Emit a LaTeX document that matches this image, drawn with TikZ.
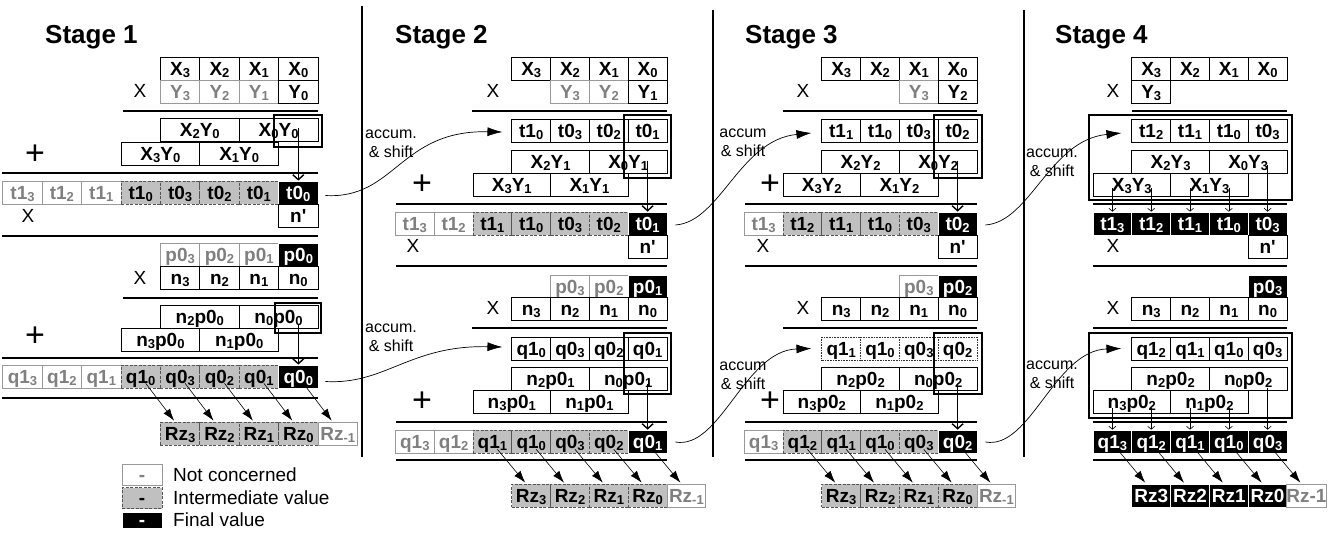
\documentclass[tikz,border=0pt]{standalone}
\usepackage{fontspec}
\setmainfont{Liberation Sans}
\usetikzlibrary{arrows.meta,calc}
\definecolor{ncdraw}{HTML}{999999}
\definecolor{nctext}{HTML}{808080}
\definecolor{imfill}{HTML}{C0C0C0}
\definecolor{imdraw}{HTML}{555555}
\newcommand{\cellfont}{\bfseries\fontsize{19}{19}\selectfont}
\newcommand{\lblfont}{\fontsize{19}{19}\selectfont}
\newcommand{\plusfont}{\fontsize{34}{34}\selectfont}
\newcommand{\accfont}{\fontsize{16}{18.5}\selectfont}
\newcommand{\titlefont}{\bfseries\fontsize{26}{26}\selectfont}
\newcommand{\legfont}{\fontsize{19}{19}\selectfont}
\newcommand{\subs}[1]{\raisebox{-2.4pt}{\fontsize{13}{13}\selectfont #1}}
\newcommand{\cb}[6]{%
  \pgfmathsetmacro\cbx{\stR-(#3+#4+1)/2*\stW}%
  \pgfmathsetmacro\cbw{(#3-#4+1)*\stW}%
  \node[cellbase,#1,minimum width=\cbw pt] (#2) at (\cbx,#5+11.5) {#6};}
\tikzset{
  cellbase/.style={draw=black, line width=0.7pt, fill=white, minimum height=23pt,
    inner sep=0pt, text height=13.5pt, text depth=0pt, font=\cellfont},
  nc/.style={draw=ncdraw, text=nctext},
  im/.style={fill=imfill, draw=imdraw, dash pattern=on 3pt off 1.5pt},
  fv/.style={fill=black, text=white, draw=white},
  dt/.style={draw=black!80, dash pattern=on 0.8pt off 0.8pt},
  rule/.style={line width=1.5pt},
  hl/.style={line width=1.6pt},
  varr/.style={line width=1.4pt, -{Straight Barb[length=5pt,width=11pt]}},
  sarr/.style={line width=0.6pt, -{Straight Barb[length=3pt,width=7pt]}},
  darr/.style={line width=0.6pt, -{Latex[length=12pt,width=8pt]}},
  carr/.style={line width=0.7pt, -{Latex[length=15pt,width=9pt]}},
  lbl/.style={font=\lblfont, inner sep=0pt},
  plus/.style={font=\plusfont, inner sep=0pt},
  accum/.style={font=\accfont, align=center, inner sep=0pt},
  title/.style={font=\titlefont, inner sep=0pt, anchor=base west},
  legtxt/.style={font=\legfont, inner sep=0pt, anchor=west},
}
\begin{document}
\begin{tikzpicture}[x=1pt,y=-1pt]
\useasboundingbox (0,0) rectangle (1333,533);
\fill[white] (0,0) rectangle (1333,533);

% ================= Stage 1 =================
\def\stR{318}\def\stW{39.4}
\node[title] (ttl1) at (45,43) {Stage 1};
\cb{}{s1x3}{3}{3}{57}{X\subs3}
\cb{}{s1x2}{2}{2}{57}{X\subs2}
\cb{}{s1x1}{1}{1}{57}{X\subs1}
\cb{}{s1x0}{0}{0}{57}{X\subs0}
\cb{nc}{s1y3}{3}{3}{80}{Y\subs3}
\cb{nc}{s1y2}{2}{2}{80}{Y\subs2}
\cb{nc}{s1y1}{1}{1}{80}{Y\subs1}
\cb{}{s1y0}{0}{0}{80}{Y\subs0}
\cb{}{s1pa}{3}{2}{118}{X\subs2Y\subs0}
\cb{}{s1pb}{1}{0}{118}{X\subs0Y\subs0}
\cb{}{s1pc}{4}{3}{142}{X\subs3Y\subs0}
\cb{}{s1pd}{2}{1}{142}{X\subs1Y\subs0}
\cb{nc}{s1t7}{7}{7}{181}{t1\subs3}
\cb{nc}{s1t6}{6}{6}{181}{t1\subs2}
\cb{nc}{s1t5}{5}{5}{181}{t1\subs1}
\cb{im}{s1t4}{4}{4}{181}{t1\subs0}
\cb{im}{s1t3}{3}{3}{181}{t0\subs3}
\cb{im}{s1t2}{2}{2}{181}{t0\subs2}
\cb{im}{s1t1}{1}{1}{181}{t0\subs1}
\cb{fv}{s1t0}{0}{0}{181}{t0\subs0}
\cb{}{s1np}{0}{0}{204}{n\textquotesingle}
\cb{nc}{s1p3}{3}{3}{243}{p0\subs3}
\cb{nc}{s1p2}{2}{2}{243}{p0\subs2}
\cb{nc}{s1p1}{1}{1}{243}{p0\subs1}
\cb{fv}{s1p0}{0}{0}{243}{p0\subs0}
\cb{}{s1n3}{3}{3}{266}{n\subs3}
\cb{}{s1n2}{2}{2}{266}{n\subs2}
\cb{}{s1n1}{1}{1}{266}{n\subs1}
\cb{}{s1n0}{0}{0}{266}{n\subs0}
\cb{}{s1pe}{3}{2}{305}{n\subs2p0\subs0}
\cb{}{s1pf}{1}{0}{305}{n\subs0p0\subs0}
\cb{}{s1pg}{4}{3}{328}{n\subs3p0\subs0}
\cb{}{s1ph}{2}{1}{328}{n\subs1p0\subs0}
\cb{nc}{s1q7}{7}{7}{365}{q1\subs3}
\cb{nc}{s1q6}{6}{6}{365}{q1\subs2}
\cb{nc}{s1q5}{5}{5}{365}{q1\subs1}
\cb{im}{s1q4}{4}{4}{365}{q1\subs0}
\cb{im}{s1q3}{3}{3}{365}{q0\subs3}
\cb{im}{s1q2}{2}{2}{365}{q0\subs2}
\cb{im}{s1q1}{1}{1}{365}{q0\subs1}
\cb{fv}{s1q0}{0}{0}{365}{q0\subs0}
\cb{im}{s1r3}{3}{3}{422}{Rz\subs3}
\cb{im}{s1r2}{2}{2}{422}{Rz\subs2}
\cb{im}{s1r1}{1}{1}{422}{Rz\subs1}
\cb{im}{s1r0}{0}{0}{422}{Rz\subs0}
\cb{nc}{s1rm}{-1}{-1}{422}{Rz\subs{-1}}
\draw[rule] (123,111) -- (318,111);
\draw[rule] (2,173) -- (318,173);
\draw[rule] (2,236) -- (318,236);
\draw[rule] (123,298) -- (318,298);
\draw[rule] (2,358) -- (318,358);
\draw[rule] (2,398) -- (318,398);
\draw[hl] (274,115) rectangle (322,147);
\draw[hl] (275,303) rectangle (321,333);
\node[lbl] (s1lx1) at (140,91) {X};
\node[lbl] (s1lx2) at (28,216) {X};
\node[lbl] (s1lx3) at (140,278) {X};
\node[plus] (s1pl1) at (35,155) {+};
\node[plus] (s1pl2) at (35,337) {+};
\draw[varr] ($(s1t0 |- s1pb.center)+(0,-2)$) -- (s1t0.north);
\draw[varr] ($(s1q0 |- s1pf.center)+(0,8)$) -- (s1q0.north);
\foreach \a/\b in {4/3,3/2,2/1,1/0,0/m}
  {\draw[darr] ($(s1q\a.south)+(5,-5)$) -- ($(s1r\b.north)+(-6,-1)$);}

% legend
\node[cellbase,nc,minimum width=40pt,minimum height=21pt] (lg1) at (142,475) {-};
\node[cellbase,im,minimum width=40pt,minimum height=21pt] (lg2) at (142,498) {-};
\node[cellbase,fv,minimum width=40pt,minimum height=16pt] (lg3) at (142,520) {-};
\node[legtxt] (lt1) at (173,475) {Not concerned};
\node[legtxt] (lt2) at (173,498) {Intermediate value};
\node[legtxt] (lt3) at (173,520) {Final value};

% ================= Stage 2 =================
\def\stR{667}\def\stW{38.8}
\node[title] (ttl2) at (395,43) {Stage 2};
\cb{}{s2x3}{3}{3}{57}{X\subs3}
\cb{}{s2x2}{2}{2}{57}{X\subs2}
\cb{}{s2x1}{1}{1}{57}{X\subs1}
\cb{}{s2x0}{0}{0}{57}{X\subs0}
\cb{nc}{s2y2}{2}{2}{80}{Y\subs3}
\cb{nc}{s2y1}{1}{1}{80}{Y\subs2}
\cb{}{s2y0}{0}{0}{80}{Y\subs1}
\cb{}{s2a3}{3}{3}{119}{t1\subs0}
\cb{}{s2a2}{2}{2}{119}{t0\subs3}
\cb{}{s2a1}{1}{1}{119}{t0\subs2}
\cb{}{s2a0}{0}{0}{119}{t0\subs1}
\cb{}{s2pa}{3}{2}{150}{X\subs2Y\subs1}
\cb{}{s2pb}{1}{0}{150}{X\subs0Y\subs1}
\cb{}{s2pc}{4}{3}{173}{X\subs3Y\subs1}
\cb{}{s2pd}{2}{1}{173}{X\subs1Y\subs1}
\cb{nc}{s2t6}{6}{6}{212}{t1\subs3}
\cb{nc}{s2t5}{5}{5}{212}{t1\subs2}
\cb{im}{s2t4}{4}{4}{212}{t1\subs1}
\cb{im}{s2t3}{3}{3}{212}{t1\subs0}
\cb{im}{s2t2}{2}{2}{212}{t0\subs3}
\cb{im}{s2t1}{1}{1}{212}{t0\subs2}
\cb{fv}{s2t0}{0}{0}{212}{t0\subs1}
\cb{}{s2np}{0}{0}{235}{n\textquotesingle}
\cb{nc}{s2p2}{2}{2}{275}{p0\subs3}
\cb{nc}{s2p1}{1}{1}{275}{p0\subs2}
\cb{fv}{s2p0}{0}{0}{275}{p0\subs1}
\cb{}{s2n3}{3}{3}{297}{n\subs3}
\cb{}{s2n2}{2}{2}{297}{n\subs2}
\cb{}{s2n1}{1}{1}{297}{n\subs1}
\cb{}{s2n0}{0}{0}{297}{n\subs0}
\cb{}{s2b3}{3}{3}{337}{q1\subs0}
\cb{}{s2b2}{2}{2}{337}{q0\subs3}
\cb{}{s2b1}{1}{1}{337}{q0\subs2}
\cb{}{s2b0}{0}{0}{337}{q0\subs1}
\cb{}{s2pe}{3}{2}{367}{n\subs2p0\subs1}
\cb{}{s2pf}{1}{0}{367}{n\subs0p0\subs1}
\cb{}{s2pg}{4}{3}{390}{n\subs3p0\subs1}
\cb{}{s2ph}{2}{1}{390}{n\subs1p0\subs1}
\cb{nc}{s2q6}{6}{6}{430}{q1\subs3}
\cb{nc}{s2q5}{5}{5}{430}{q1\subs2}
\cb{im}{s2q4}{4}{4}{430}{q1\subs1}
\cb{im}{s2q3}{3}{3}{430}{q1\subs0}
\cb{im}{s2q2}{2}{2}{430}{q0\subs3}
\cb{im}{s2q1}{1}{1}{430}{q0\subs2}
\cb{fv}{s2q0}{0}{0}{430}{q0\subs1}
\cb{im}{s2r3}{3}{3}{484}{Rz\subs3}
\cb{im}{s2r2}{2}{2}{484}{Rz\subs2}
\cb{im}{s2r1}{1}{1}{484}{Rz\subs1}
\cb{im}{s2r0}{0}{0}{484}{Rz\subs0}
\cb{nc}{s2rm}{-1}{-1}{484}{Rz\subs{-1}}
\draw[rule] (472,111) -- (667,111);
\draw[rule] (396,204) -- (667,204);
\draw[rule] (396,266) -- (667,266);
\draw[rule] (472,328) -- (667,328);
\draw[rule] (396,422) -- (667,422);
\draw[rule] (396,460) -- (667,460);
\draw[hl] (624,115) rectangle (671,178);
\draw[hl] (624,333) rectangle (671,394);
\node[lbl] (s2lx1) at (493,91) {X};
\node[lbl] (s2lx2) at (413,246) {X};
\node[lbl] (s2lx3) at (493,308) {X};
\node[plus] (s2pl1) at (422,185) {+};
\node[plus] (s2pl2) at (422,402) {+};
\node[accum] (s2ac1) at (391,144) {accum.\\\& shift};
\node[accum] (s2ac2) at (391,338) {accum.\\\& shift};
\draw[varr] ($(s2t0 |- s2pb.center)+(0,-1)$) -- (s2t0.north);
\draw[varr] ($(s2q0 |- s2pf.center)+(0,5)$) -- (s2q0.north);
\foreach \a/\b in {4/3,3/2,2/1,1/0,0/m}
  {\draw[darr] ($(s2q\a.south)+(5,-4)$) -- ($(s2r\b.north)+(-6,-1)$);}
\draw[carr] ($(s1t0.east)+(7,3)$) .. controls +(70,4) and +(-103,-2) .. ($(s2a3.west)+(-9,1.5)$);
\draw[carr] ($(s1q0.east)+(7,5)$) .. controls +(60,3.5) and +(-93,-2) .. ($(s2b3.west)+(-9,-1.5)$);

% ================= Stage 3 =================
\def\stR{977}\def\stW{38.8}
\node[title] (ttl3) at (745,43) {Stage 3};
\cb{}{s3x3}{3}{3}{57}{X\subs3}
\cb{}{s3x2}{2}{2}{57}{X\subs2}
\cb{}{s3x1}{1}{1}{57}{X\subs1}
\cb{}{s3x0}{0}{0}{57}{X\subs0}
\cb{nc}{s3y1}{1}{1}{80}{Y\subs3}
\cb{}{s3y0}{0}{0}{80}{Y\subs2}
\cb{}{s3a3}{3}{3}{119}{t1\subs1}
\cb{}{s3a2}{2}{2}{119}{t1\subs0}
\cb{}{s3a1}{1}{1}{119}{t0\subs3}
\cb{}{s3a0}{0}{0}{119}{t0\subs2}
\cb{}{s3pa}{3}{2}{150}{X\subs2Y\subs2}
\cb{}{s3pb}{1}{0}{150}{X\subs0Y\subs2}
\cb{}{s3pc}{4}{3}{173}{X\subs3Y\subs2}
\cb{}{s3pd}{2}{1}{173}{X\subs1Y\subs2}
\cb{nc}{s3t5}{5}{5}{212}{t1\subs3}
\cb{im}{s3t4}{4}{4}{212}{t1\subs2}
\cb{im}{s3t3}{3}{3}{212}{t1\subs1}
\cb{im}{s3t2}{2}{2}{212}{t1\subs0}
\cb{im}{s3t1}{1}{1}{212}{t0\subs3}
\cb{fv}{s3t0}{0}{0}{212}{t0\subs2}
\cb{}{s3np}{0}{0}{235}{n\textquotesingle}
\cb{nc}{s3p1}{1}{1}{275}{p0\subs3}
\cb{fv}{s3p0}{0}{0}{275}{p0\subs2}
\cb{}{s3n3}{3}{3}{297}{n\subs3}
\cb{}{s3n2}{2}{2}{297}{n\subs2}
\cb{}{s3n1}{1}{1}{297}{n\subs1}
\cb{}{s3n0}{0}{0}{297}{n\subs0}
\cb{dt}{s3b3}{3}{3}{337}{q1\subs1}
\cb{dt}{s3b2}{2}{2}{337}{q1\subs0}
\cb{dt}{s3b1}{1}{1}{337}{q0\subs3}
\cb{dt}{s3b0}{0}{0}{337}{q0\subs2}
\cb{}{s3pe}{3}{2}{367}{n\subs2p0\subs2}
\cb{}{s3pf}{1}{0}{367}{n\subs0p0\subs2}
\cb{}{s3pg}{4}{3}{390}{n\subs3p0\subs2}
\cb{}{s3ph}{2}{1}{390}{n\subs1p0\subs2}
\cb{nc}{s3q5}{5}{5}{430}{q1\subs3}
\cb{im}{s3q4}{4}{4}{430}{q1\subs2}
\cb{im}{s3q3}{3}{3}{430}{q1\subs1}
\cb{im}{s3q2}{2}{2}{430}{q1\subs0}
\cb{im}{s3q1}{1}{1}{430}{q0\subs3}
\cb{fv}{s3q0}{0}{0}{430}{q0\subs2}
\cb{im}{s3r3}{3}{3}{484}{Rz\subs3}
\cb{im}{s3r2}{2}{2}{484}{Rz\subs2}
\cb{im}{s3r1}{1}{1}{484}{Rz\subs1}
\cb{im}{s3r0}{0}{0}{484}{Rz\subs0}
\cb{nc}{s3rm}{-1}{-1}{484}{Rz\subs{-1}}
\draw[rule] (783,111) -- (977,111);
\draw[rule] (745,204) -- (977,204);
\draw[rule] (745,266) -- (977,266);
\draw[rule] (783,328) -- (977,328);
\draw[rule] (745,422) -- (977,422);
\draw[rule] (745,460) -- (977,460);
\draw[hl] (934,115) rectangle (982,178);
\draw[hl] (934,333) rectangle (982,394);
\node[lbl] (s3lx1) at (803,91) {X};
\node[lbl] (s3lx2) at (763,246) {X};
\node[lbl] (s3lx3) at (803,308) {X};
\node[plus] (s3pl1) at (770,185) {+};
\node[plus] (s3pl2) at (770,402) {+};
\node[accum] (s3ac1) at (743,143) {accum\\\& shift};
\node[accum] (s3ac2) at (743,376) {accum\\\& shift};
\draw[varr] ($(s3t0 |- s3pb.center)+(0,-1)$) -- (s3t0.north);
\draw[varr] ($(s3q0 |- s3pf.center)+(0,5)$) -- (s3q0.north);
\foreach \a/\b in {4/3,3/2,2/1,1/0,0/m}
  {\draw[darr] ($(s3q\a.south)+(5,-4)$) -- ($(s3r\b.north)+(-6,-1)$);}
\draw[carr] ($(s2t0.east)+(8,1.5)$) .. controls +(45,-3) and +(-72,7) .. ($(s3a3.west)+(-10,2.5)$);
\draw[carr] ($(s2q0.east)+(8,0.5)$) .. controls +(45,8) and +(-67,2) .. ($(s3b3.west)+(-10,0)$);

% ================= Stage 4 =================
\def\stR{1287}\def\stW{38.8}
\node[title] (ttl4) at (1055,43) {Stage 4};
\cb{}{s4x3}{3}{3}{57}{X\subs3}
\cb{}{s4x2}{2}{2}{57}{X\subs2}
\cb{}{s4x1}{1}{1}{57}{X\subs1}
\cb{}{s4x0}{0}{0}{57}{X\subs0}
\cb{}{s4y3}{3}{3}{80}{Y\subs3}
\cb{}{s4a3}{3}{3}{119}{t1\subs2}
\cb{}{s4a2}{2}{2}{119}{t1\subs1}
\cb{}{s4a1}{1}{1}{119}{t1\subs0}
\cb{}{s4a0}{0}{0}{119}{t0\subs3}
\cb{}{s4pa}{3}{2}{150}{X\subs2Y\subs3}
\cb{}{s4pb}{1}{0}{150}{X\subs0Y\subs3}
\cb{}{s4pc}{4}{3}{173}{X\subs3Y\subs3}
\cb{}{s4pd}{2}{1}{173}{X\subs1Y\subs3}
\cb{fv}{s4t4}{4}{4}{212}{t1\subs3}
\cb{fv}{s4t3}{3}{3}{212}{t1\subs2}
\cb{fv}{s4t2}{2}{2}{212}{t1\subs1}
\cb{fv}{s4t1}{1}{1}{212}{t1\subs0}
\cb{fv}{s4t0}{0}{0}{212}{t0\subs3}
\cb{}{s4np}{0}{0}{235}{n\textquotesingle}
\cb{fv}{s4p0}{0}{0}{275}{p0\subs3}
\cb{}{s4n3}{3}{3}{297}{n\subs3}
\cb{}{s4n2}{2}{2}{297}{n\subs2}
\cb{}{s4n1}{1}{1}{297}{n\subs1}
\cb{}{s4n0}{0}{0}{297}{n\subs0}
\cb{}{s4b3}{3}{3}{337}{q1\subs2}
\cb{}{s4b2}{2}{2}{337}{q1\subs1}
\cb{}{s4b1}{1}{1}{337}{q1\subs0}
\cb{}{s4b0}{0}{0}{337}{q0\subs3}
\cb{}{s4pe}{3}{2}{367}{n\subs2p0\subs2}
\cb{}{s4pf}{1}{0}{367}{n\subs0p0\subs2}
\cb{}{s4pg}{4}{3}{390}{n\subs3p0\subs2}
\cb{}{s4ph}{2}{1}{390}{n\subs1p0\subs2}
\cb{fv}{s4q4}{4}{4}{430}{q1\subs3}
\cb{fv}{s4q3}{3}{3}{430}{q1\subs2}
\cb{fv}{s4q2}{2}{2}{430}{q1\subs1}
\cb{fv}{s4q1}{1}{1}{430}{q1\subs0}
\cb{fv}{s4q0}{0}{0}{430}{q0\subs3}
\cb{fv}{s4r3}{3}{3}{484}{Rz3}
\cb{fv}{s4r2}{2}{2}{484}{Rz2}
\cb{fv}{s4r1}{1}{1}{484}{Rz1}
\cb{fv}{s4r0}{0}{0}{484}{Rz0}
\cb{nc}{s4rm}{-1}{-1}{484}{Rz-1}
\draw[rule] (1132,111) -- (1287,111);
\draw[rule] (1093,204) -- (1287,204);
\draw[rule] (1093,266) -- (1287,266);
\draw[rule] (1093,328) -- (1287,328);
\draw[rule] (1093,422) -- (1287,422);
\draw[rule] (1093,460) -- (1287,460);
\draw[hl] (1089,115) rectangle (1292,200);
\draw[hl] (1089,333) rectangle (1292,418);
\node[lbl] (s4lx1) at (1113,91) {X};
\node[lbl] (s4lx2) at (1113,246) {X};
\node[lbl] (s4lx3) at (1113,308) {X};
\node[accum] (s4ac1) at (1052,163) {accum.\\\& shift};
\node[accum] (s4ac2) at (1052,375) {accum.\\\& shift};
\draw[sarr] ($(s4t4 |- s4pc.center)+(0,3)$) -- (s4t4.north);
\draw[sarr] ($(s4t3 |- s4pc.center)+(0,3)$) -- (s4t3.north);
\draw[sarr] ($(s4t2 |- s4pd.center)+(0,3)$) -- (s4t2.north);
\draw[sarr] ($(s4t1 |- s4pd.center)+(0,3)$) -- (s4t1.north);
\draw[sarr] ($(s4t0 |- s4pb.center)+(0,3)$) -- (s4t0.north);
\draw[sarr] ($(s4q4 |- s4pg.center)+(0,6)$) -- (s4q4.north);
\draw[sarr] ($(s4q3 |- s4pg.center)+(0,6)$) -- (s4q3.north);
\draw[sarr] ($(s4q2 |- s4ph.center)+(0,6)$) -- (s4q2.north);
\draw[sarr] ($(s4q1 |- s4ph.center)+(0,6)$) -- (s4q1.north);
\draw[sarr] ($(s4q0 |- s4pf.center)+(0,9)$) -- (s4q0.north);
\foreach \a/\b in {4/3,3/2,2/1,1/0,0/m}
  {\draw[darr] ($(s4q\a.south)+(5,-4)$) -- ($(s4r\b.north)+(-6,-1)$);}
\draw[carr] ($(s3t0.east)+(8,1.5)$) .. controls +(45,-3) and +(-72,7) .. ($(s4a3.west)+(-10,2.5)$);
\draw[carr] ($(s3q0.east)+(8,0.5)$) .. controls +(45,8) and +(-67,2) .. ($(s4b3.west)+(-10,0)$);

% separators
\draw[line width=1.6pt] (362,6) -- (362,457);
\draw[line width=1.6pt] (713,10) -- (713,457);
\draw[line width=1.6pt] (1024,10) -- (1024,457);
\end{tikzpicture}
\end{document}
